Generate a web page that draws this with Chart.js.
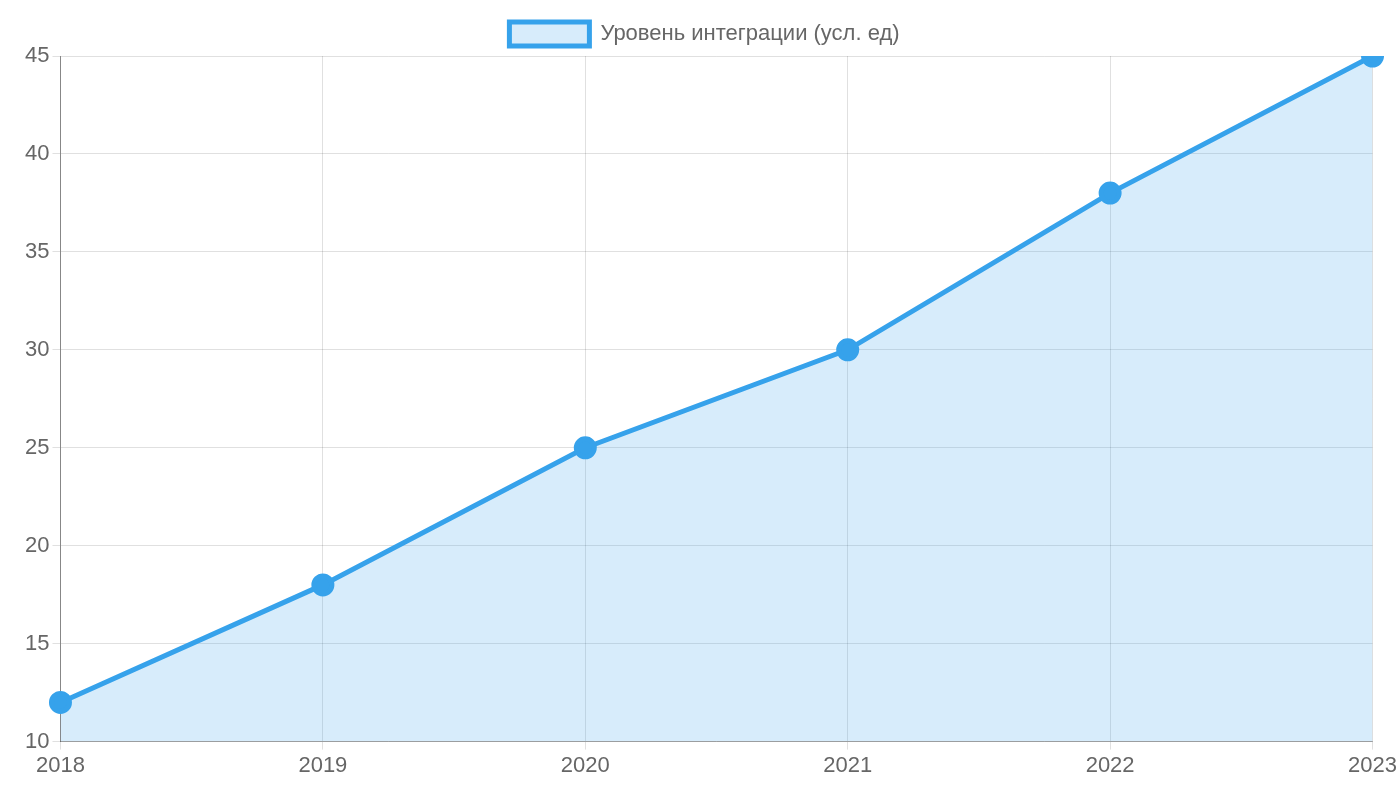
<!DOCTYPE html>
<html><head><meta charset="utf-8">
<script src="https://cdn.jsdelivr.net/npm/chart.js@4"></script>
<style>html,body{margin:0;padding:0;background:#fff}#w{width:1400px;height:800px}</style>
</head><body><div id="w"><canvas id="c"></canvas></div>
<script>
const categories = ['2018','2019','2020','2021','2022','2023'];
const seriesValues = [12,18,25,30,38,45];
const seriesLabel = 'Уровень интеграции (усл. ед)';
Chart.defaults.font.family = '"Liberation Sans", Arial, sans-serif';
Chart.defaults.font.size = 22;
Chart.defaults.color = '#666';
new Chart(document.getElementById('c'), {
  type: 'line',
  data: { labels: categories, datasets: [{
    label: seriesLabel, data: seriesValues,
    borderColor: 'rgb(54,162,235)', backgroundColor: 'rgba(54,162,235,0.2)',
    fill: true, borderWidth: 5, pointRadius: 9, pointBackgroundColor: 'rgb(54,162,235)',
    pointBorderColor: 'rgb(54,162,235)', tension: 0
  }]},
  options: {
    responsive: true, maintainAspectRatio: false, animation: false,
    layout: { padding: { left: 22, right: 13, top: 4, bottom: 18 } },
    plugins: { legend: { labels: { boxWidth: 80, boxHeight: 24, padding: 18 } } },
    scales: {
      x: { grid: { color: 'rgba(0,0,0,0.12)' }, border: { color: 'rgba(0,0,0,0.3)' } },
      y: { min: 10, max: 45, ticks: { stepSize: 5 }, grid: { color: 'rgba(0,0,0,0.12)' }, border: { color: 'rgba(0,0,0,0.4)' } }
    }
  }
});
</script></body></html>
